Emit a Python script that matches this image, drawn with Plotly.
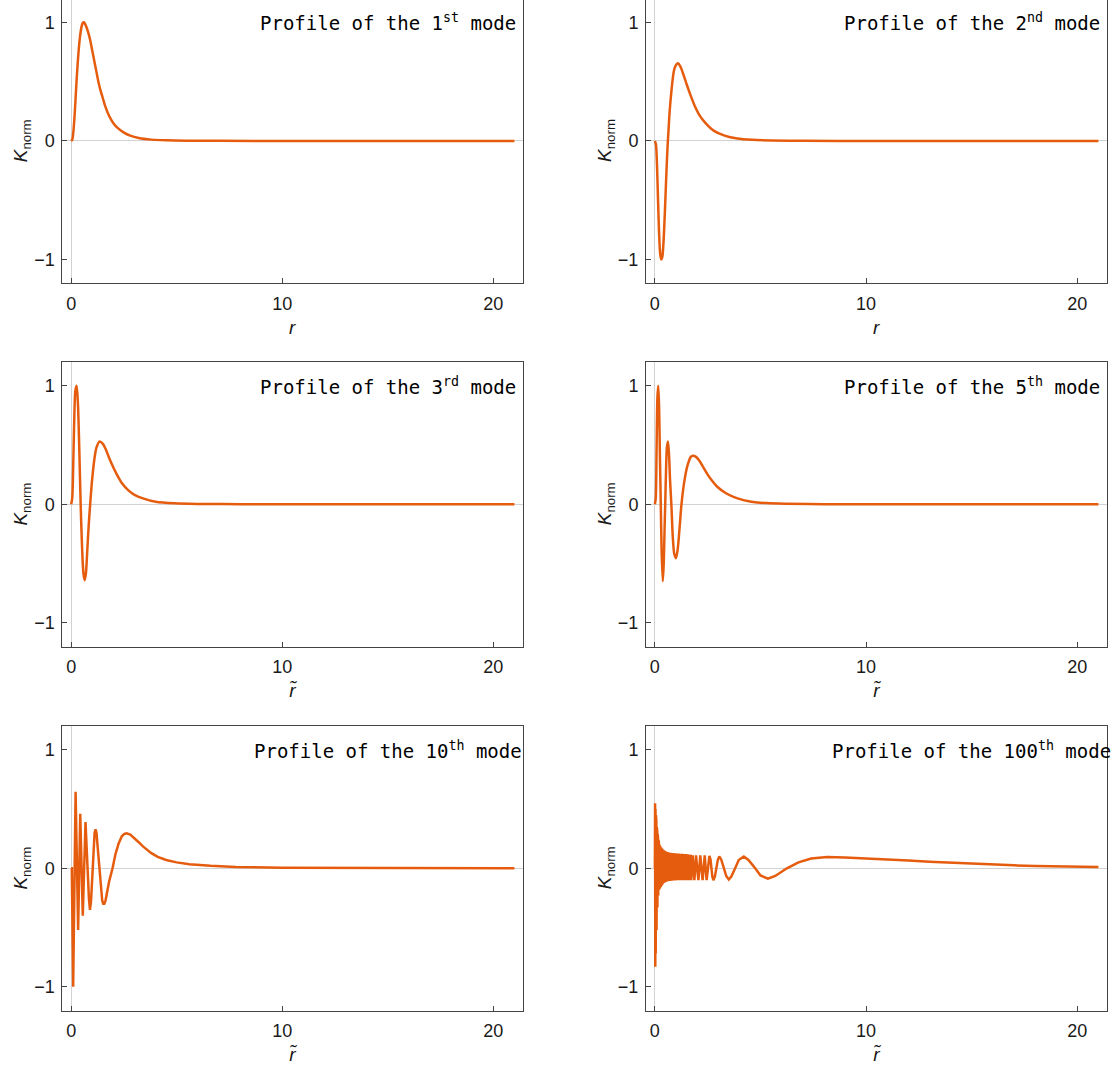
import plotly.graph_objects as go

# ---------------- data ----------------
r_mode1 = [0, 0.05, 0.1, 0.15, 0.2, 0.25, 0.3, 0.35, 0.4, 0.45, 0.5, 0.55, 0.6, 0.7, 0.8, 0.9, 1.0, 1.1, 1.2,
           1.3, 1.4, 1.5, 1.6, 1.8, 2.0, 2.2, 2.5, 2.8, 3.2, 3.8, 4.5, 5.5, 7, 10, 15, 21]
k_mode1 = [0, 0.01, 0.07, 0.18, 0.33, 0.49, 0.63, 0.75, 0.85, 0.92, 0.97, 0.995, 1.0, 0.97, 0.92, 0.85, 0.76,
           0.67, 0.58, 0.49, 0.42, 0.36, 0.30, 0.21, 0.15, 0.11, 0.07, 0.045, 0.025, 0.011, 0.005, 0.002, 0.001,
           0, 0, 0]

r_mode2 = [0, 0.05, 0.1, 0.15, 0.2, 0.25, 0.3, 0.35, 0.4, 0.45, 0.5, 0.55, 0.6, 0.65, 0.7, 0.8, 0.9, 1.0, 1.1,
           1.2, 1.35, 1.5, 1.7, 1.9, 2.1, 2.4, 2.8, 3.3, 3.9, 4.6, 5.5, 7, 10, 15, 21]
k_mode2 = [0, -0.03, -0.2, -0.5, -0.78, -0.95, -1.0, -0.98, -0.88, -0.7, -0.48, -0.25, -0.05, 0.1, 0.25, 0.45,
           0.59, 0.64, 0.655, 0.63, 0.56, 0.48, 0.38, 0.29, 0.22, 0.15, 0.085, 0.045, 0.02, 0.009, 0.004, 0.001,
           0, 0, 0]

r_mode3 = [0, 0.05, 0.1, 0.15, 0.2, 0.26, 0.32, 0.38, 0.45, 0.52, 0.58, 0.64, 0.7, 0.76, 0.83, 0.9, 1.0, 1.1,
           1.2, 1.35, 1.5, 1.65, 1.8, 2.0, 2.2, 2.4, 2.7, 3.0, 3.4, 4.0, 4.9, 6, 8, 12, 21]
k_mode3 = [0, 0.05, 0.35, 0.75, 0.96, 1.0, 0.85, 0.5, 0.0, -0.38, -0.58, -0.64, -0.58, -0.4, -0.18, 0.0, 0.22,
           0.38, 0.48, 0.53, 0.51, 0.46, 0.39, 0.31, 0.24, 0.18, 0.12, 0.08, 0.05, 0.022, 0.008, 0.003, 0.001,
           0, 0]

r_mode5 = [0, 0.04, 0.08, 0.12, 0.16, 0.2, 0.24, 0.28, 0.32, 0.375, 0.42, 0.46, 0.49, 0.53, 0.57, 0.62, 0.67,
           0.72, 0.78, 0.85, 0.92, 1.0, 1.08, 1.17, 1.26, 1.4, 1.55, 1.7, 1.8, 1.95, 2.1, 2.3, 2.5, 2.7, 2.94,
           3.35, 3.75, 4.2, 4.57, 5.3, 6.2, 8, 12, 21]
k_mode5 = [0, 0.05, 0.45, 0.9, 1.0, 0.82, 0.4, 0.0, -0.4, -0.65, -0.5, -0.2, 0.0, 0.3, 0.48, 0.53, 0.42, 0.2,
           0.0, -0.28, -0.42, -0.455, -0.38, -0.2, 0.0, 0.2, 0.33, 0.4, 0.41, 0.40, 0.37, 0.31, 0.25, 0.2, 0.15,
           0.095, 0.06, 0.035, 0.022, 0.01, 0.005, 0.001, 0, 0]

r_mode10 = [0, 0.03, 0.06, 0.095, 0.21, 0.33, 0.43, 0.55, 0.68, 0.74, 0.79, 0.84, 0.89, 0.94, 1.0, 1.06, 1.11,
            1.155, 1.2, 1.26, 1.33, 1.4, 1.47, 1.52, 1.57, 1.63, 1.7, 1.8, 1.96, 2.1, 2.25, 2.4, 2.52, 2.63, 2.8,
            3.0, 3.2, 3.4, 3.6, 3.8, 4.1, 4.5, 5.0, 5.6, 6.6, 7.8, 10, 14, 21]
k_mode10 = [0, 0.0, -0.45, -1.0, 0.645, -0.52, 0.46, -0.40, 0.39, 0.2, -0.05, -0.25, -0.35, -0.28, -0.05, 0.17,
            0.3, 0.33, 0.3, 0.17, 0.0, -0.17, -0.27, -0.3, -0.3, -0.27, -0.2, -0.11, 0.0, 0.12, 0.21, 0.27, 0.29,
            0.295, 0.285, 0.255, 0.22, 0.185, 0.155, 0.128, 0.097, 0.07, 0.05, 0.035, 0.022, 0.012, 0.005,
            0.001, 0]

r_mode100 = [0.000, 0.010, 0.020, 0.030, 0.040, 0.050, 0.060, 0.070, 0.080, 0.090, 0.100, 0.110, 0.120, 0.130,
             0.140, 0.150, 0.160, 0.170, 0.180, 0.190, 0.200,
             0.22, 0.24, 0.26, 0.28, 0.30, 0.32, 0.34, 0.36, 0.38, 0.40, 0.42, 0.44, 0.46, 0.48, 0.50, 0.52,
             0.54, 0.56, 0.58, 0.60, 0.62, 0.64, 0.66, 0.68, 0.70, 0.72, 0.74, 0.76, 0.78, 0.80, 0.82, 0.84,
             0.86, 0.88, 0.90, 0.92, 0.94, 0.96, 0.98, 1.00, 1.02, 1.04, 1.06, 1.08, 1.10, 1.12, 1.14, 1.16,
             1.18, 1.20, 1.22, 1.24, 1.26, 1.28, 1.30, 1.32, 1.34, 1.36, 1.38, 1.40, 1.42, 1.44, 1.46, 1.48,
             1.50, 1.52, 1.54, 1.56, 1.58, 1.60, 1.62, 1.64, 1.66, 1.68, 1.70, 1.72,
             1.79, 1.83, 1.87, 1.91, 1.95, 2.005, 2.06, 2.105, 2.15, 2.205, 2.26, 2.31, 2.36, 2.405, 2.45,
             2.515, 2.58, 2.635, 2.675, 2.72, 2.77, 2.84, 2.91, 2.98, 3.05, 3.14, 3.27, 3.38, 3.5, 3.62, 3.8,
             3.97, 4.21, 4.43, 4.75, 5.0, 5.35, 5.7, 6.25, 6.8, 7.4, 8.16, 9.0, 10, 11, 12, 13, 14, 15, 16,
             17, 18, 19, 20, 21]
k_mode100 = [0.0, 0.55, -0.83, 0.50, -0.72, 0.45, -0.62, 0.40, -0.52, 0.35, -0.42, 0.32, -0.33, 0.29,
             -0.27, 0.26, -0.23, 0.24, -0.20, 0.22, -0.18,
             0.200, -0.170, 0.185, -0.158, 0.175, -0.148, 0.166, -0.136, 0.158, -0.127, 0.152, -0.122, 0.147,
             -0.118, 0.143, -0.114, 0.140, -0.112, 0.138, -0.110, 0.136, -0.108, 0.134, -0.107, 0.132, -0.106,
             0.131, -0.105, 0.130, -0.104, 0.129, -0.103, 0.128, -0.103, 0.127, -0.102, 0.127, -0.102, 0.126,
             -0.101, 0.125, -0.101, 0.125, -0.100, 0.124, -0.100, 0.124, -0.100, 0.123, -0.100, 0.123, -0.100,
             0.122, -0.100, 0.122, -0.100, 0.121, -0.100, 0.121, -0.100, 0.120, -0.100, 0.120, -0.100, 0.119,
             -0.100, 0.118, -0.100, 0.117, -0.100, 0.116, -0.100, 0.115, -0.100, 0.114, -0.100,
             0.11, 0.0, -0.1, 0.0, 0.11, 0.0, -0.1, 0.0, 0.11, 0.0, -0.1, 0.0, 0.11, 0.0, -0.1,
             0.0, 0.105, 0.075, 0.0, -0.07, -0.1, -0.07, 0.0, 0.07, 0.1, 0.075, 0.0, -0.065, -0.095, -0.07, 0.0,
             0.07, 0.1, 0.07, 0.0, -0.06, -0.088, -0.065, 0.0, 0.05, 0.083, 0.095, 0.092, 0.085, 0.075, 0.065,
             0.055, 0.046, 0.038, 0.031, 0.025, 0.02, 0.016, 0.013, 0.011]

mode_names = ["1<sup>st</sup>", "2<sup>nd</sup>", "3<sup>rd</sup>", "5<sup>th</sup>",
              "10<sup>th</sup>", "100<sup>th</sup>"]
x_titles = ["<i>r</i>", "<i>r</i>", "<i>r̃</i>", "<i>r̃</i>", "<i>r̃</i>", "<i>r̃</i>"]
y_title = "<i>K</i><sub>norm</sub>"
x_ticks = [0, 10, 20]
y_ticks = [-1, 0, 1]
series = [(r_mode1, k_mode1), (r_mode2, k_mode2), (r_mode3, k_mode3),
          (r_mode5, k_mode5), (r_mode10, k_mode10), (r_mode100, k_mode100)]
smooth = [True, True, True, True, False, False]

# ---------------- layout geometry (pixels) ----------------
W, H = 1118, 1066
col_px = [(62.3, 523.3), (646.0, 1107.3)]
row_px = [(0.0, 283.3), (362.1, 646.5), (726.1, 1010.5)]
row_yrange = [[-1.2, 1.188], [-1.2, 1.2], [-1.2, 1.2]]

LINE = "rgb(230,92,14)"
FRAME = "#444444"
AX = "#d2d2d2"
TICKFONT = dict(family="Liberation Sans, Arial, sans-serif", size=18, color="#1a1a1a")

fig = go.Figure()
annotations = []
for i, (xs, ys) in enumerate(series):
    r, c = divmod(i, 2)
    n = "" if i == 0 else str(i + 1)
    line = dict(color=LINE, width=2.5)
    if smooth[i]:
        line.update(shape="spline", smoothing=0.8)
    fig.add_trace(go.Scatter(x=xs, y=ys, mode="lines", line=line,
                             xaxis="x" + n, yaxis="y" + n, showlegend=False, hoverinfo="skip"))
    x0, x1 = col_px[c]
    y0, y1 = row_px[r]
    fig.layout["xaxis" + n] = dict(
        domain=[x0 / W, x1 / W], range=[-0.42, 21.42], anchor="y" + n,
        tickvals=x_ticks, ticks="inside", ticklen=5, tickcolor=FRAME, tickwidth=1,
        showline=True, linecolor=FRAME, linewidth=1, mirror=(r != 0),
        showgrid=False, zeroline=True, zerolinecolor=AX, zerolinewidth=1,
        tickfont=TICKFONT, ticklabelstandoff=4, fixedrange=True)
    fig.layout["yaxis" + n] = dict(
        domain=[1 - y1 / H, 1 - y0 / H], range=row_yrange[r], anchor="x" + n,
        tickvals=y_ticks, ticks="inside", ticklen=5, tickcolor=FRAME, tickwidth=1,
        showline=True, linecolor=FRAME, linewidth=1, mirror=True,
        showgrid=False, zeroline=True, zerolinecolor=AX, zerolinewidth=1,
        tickfont=TICKFONT, ticklabelstandoff=3, fixedrange=True)
    # mode label
    annotations.append(dict(
        x=15, y=1, xref="x" + n, yref="y" + n, xanchor="center", yanchor="middle",
        text="Profile of the " + mode_names[i] + " mode", showarrow=False,
        font=dict(family="DejaVu Sans Mono, monospace", size=19, color="black")))
    # axis titles
    annotations.append(dict(
        x=(x0 + x1) / 2 / W, y=1 - (y1 + 44) / H, xref="paper", yref="paper",
        xanchor="center", yanchor="middle", text=x_titles[i], showarrow=False,
        font=dict(family="Liberation Sans, Arial, sans-serif", size=19, color="#1a1a1a")))
    annotations.append(dict(
        x=(x0 - 40) / W, y=1 - ((y0 + y1) / 2 if r else 141) / H, xref="paper", yref="paper",
        xanchor="center", yanchor="middle", text=y_title, textangle=-90, showarrow=False,
        font=dict(family="Liberation Sans, Arial, sans-serif", size=19, color="#1a1a1a")))

fig.update_layout(width=W, height=H, margin=dict(l=0, r=0, t=0, b=0),
                  paper_bgcolor="white", plot_bgcolor="white", annotations=annotations)
fig.write_html("out.html", config={"displayModeBar": False, "staticPlot": True},
               post_script="document.body.style.margin='0px';document.body.style.padding='0px';")
